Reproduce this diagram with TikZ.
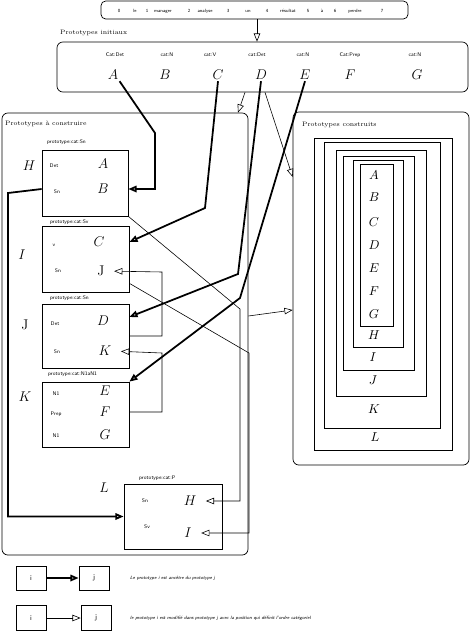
\documentclass[tikz,border=0pt]{standalone}
\usepackage{tikz}
\usetikzlibrary{positioning, arrows.meta}

\begin{document}
\begin{tikzpicture}[x=0.03cm, y=-0.03cm, >={Triangle[open, length=7pt, width=5.5pt]},
                    frame/.style={rectangle, draw, rounded corners=5pt, line width=0.6pt},
                    proto/.style={rectangle, draw, line width=0.6pt},
                    word/.style={anchor=base, inner sep=0pt, font=\sffamily\fontsize{4}{4}\selectfont},
                    cat/.style={inner sep=0pt, font=\sffamily\fontsize{4.5}{5}\selectfont},
                    title/.style={anchor=west, inner sep=0pt, font=\fontsize{5.5}{6}\selectfont},
                    letter/.style={inner sep=1pt, font=\fontsize{12}{12}\selectfont},
                    small letter/.style={inner sep=1pt, font=\fontsize{10.5}{11}\selectfont},
                    legend/.style={anchor=west, inner sep=0pt, font=\sffamily\itshape\fontsize{4}{4}\selectfont},
                    anc/.style={->, line width=1.5pt},
                    modif/.style={->, line width=0.5pt}]

  \useasboundingbox (0,0) rectangle (473,632);

  % phrase a analyser
  \node[frame, rounded corners=4pt, minimum width=9.21cm, minimum height=0.54cm] (phrase) at (254.5,10) {};
  \foreach \w/\x in {0/119, le/135, 1/147, manager/163, 2/189, analyse/205, 3/228, un/248,
                     4/267, résultat/288, 5/308, à/322, 6/335, perdre/355, 7/382}
    \node[word] (w\x) at (\x,12.5) {\w};

  % prototypes initiaux
  \node[frame, minimum width=12.33cm, minimum height=1.5cm] (init) at (262.5,67) {};
  \node[title] (tinit) at (60,33) {Prototypes initiaux};
  \node[cat, anchor=base] (cA) at (115,56) {Cat:Det};
  \node[cat, anchor=base] (cB) at (167,56) {cat:N};
  \node[cat, anchor=base] (cC) at (210,56) {cat:V};
  \node[cat, anchor=base] (cD) at (257,56) {cat:Det};
  \node[cat, anchor=base] (cE) at (303,56) {cat:N};
  \node[cat, anchor=base] (cF) at (350,56) {Cat:Prep};
  \node[cat, anchor=base] (cG) at (415,56) {cat:N};
  \node[letter] (iA) at (113,75) {$A$};
  \node[letter] (iB) at (165,75) {$B$};
  \node[letter] (iC) at (218,75) {$C$};
  \node[letter] (iD) at (261,75) {$D$};
  \node[letter] (iE) at (305,75) {$E$};
  \node[letter] (iF) at (350,75) {$F$};
  \node[letter] (iG) at (417,75) {$G$};

  % prototypes a construire
  \node[frame, minimum width=7.38cm, minimum height=13.26cm] (build) at (125,334) {};
  \node[title] (tbuild) at (5,124) {Prototypes à construire};

  \node[proto, minimum width=2.58cm, minimum height=1.98cm] (pH) at (85,183) {};
  \node[cat, anchor=west] (lH) at (47,142) {prototype:cat:Sn};
  \node[cat] (dH) at (54,166) {Det};
  \node[cat] (sH) at (57,192) {Sn};
  \node[letter] (hA) at (103,164) {$A$};
  \node[letter] (hB) at (103,189) {$B$};
  \node[letter] (oH) at (29,166) {$H$};

  \node[proto, minimum width=2.61cm, minimum height=1.98cm] (pI) at (85.5,259) {};
  \node[cat, anchor=west] (lI) at (50,222) {prototype:cat:Sv};
  \node[cat] (vI) at (54,245) {v};
  \node[cat] (sI) at (58,271) {Sn};
  \node[letter] (hC) at (99,242) {$C$};
  \node[letter] (hJ) at (101,271) {J};
  \node[letter] (oI) at (22,255) {$I$};

  \node[proto, minimum width=2.61cm, minimum height=1.92cm] (pJ) at (85.5,336) {};
  \node[cat, anchor=west] (lJ) at (50,298) {prototype:cat:Sn};
  \node[cat] (dJ) at (55,324) {Det};
  \node[cat] (sJ) at (57,352) {Sn};
  \node[letter] (hD) at (103,321) {$D$};
  \node[letter] (hK) at (105,351) {$K$};
  \node[letter] (oJ) at (25,325) {J};

  \node[proto, minimum width=2.61cm, minimum height=1.95cm] (pK) at (85.5,414.5) {};
  \node[cat, anchor=west] (lK) at (48,374) {prototype:cat:N1aN1};
  \node[cat] (nK) at (56,394) {N1};
  \node[cat] (rK) at (56,414) {Prep};
  \node[cat] (mK) at (56,436) {N1};
  \node[letter] (hE) at (105,391) {$E$};
  \node[letter] (hF) at (105,412) {$F$};
  \node[letter] (hG) at (105,435) {$G$};
  \node[letter] (oK) at (25,397) {$K$};

  \node[proto, minimum width=2.94cm, minimum height=1.95cm] (pL) at (173,516.5) {};
  \node[cat, anchor=west] (lL) at (139,478) {prototype:cat:P};
  \node[cat] (sL) at (145,501) {Sn};
  \node[cat] (vL) at (147,527) {Sv};
  \node[letter] (hH) at (190,501) {$H$};
  \node[letter] (hI) at (188,533) {$I$};
  \node[letter] (oL) at (104,488) {$L$};

  % prototypes construits
  \node[frame, minimum width=5.28cm, minimum height=10.59cm] (done) at (381,288.5) {};
  \node[title] (tdone) at (302,125) {Prototypes construits};
  \draw[line width=0.6pt] (314,138) rectangle (452,450);
  \draw[line width=0.6pt] (324,142) rectangle (440,428);
  \draw[line width=0.6pt] (336,150) rectangle (426,396);
  \draw[line width=0.6pt] (343,156) rectangle (414,370);
  \draw[line width=0.6pt] (353,160) rectangle (403,347);
  \draw[line width=0.6pt] (360,164) rectangle (393,326);
  \node[small letter] (rA) at (374,175) {$A$};
  \node[small letter] (rB) at (374,197) {$B$};
  \node[small letter] (rC) at (374,222) {$C$};
  \node[small letter] (rD) at (374,245) {$D$};
  \node[small letter] (rE) at (374,268) {$E$};
  \node[small letter] (rF) at (374,291) {$F$};
  \node[small letter] (rG) at (374,314) {$G$};
  \node[small letter] (rH) at (374,335) {$H$};
  \node[small letter] (rI) at (373,357) {$I$};
  \node[small letter] (rJ) at (373,380) {$J$};
  \node[small letter] (rK) at (374,409) {$K$};
  \node[small letter] (rL) at (375,437) {$L$};

  % liens entre les cadres
  \draw[modif] (phrase.south -| 257,0) -- (init.north -| 257,0);
  \draw[modif] (init.south -| 245,0) -- (build.north -| 238,0);
  \draw[modif] (init.south -| 265,0) -- (done.west |- 0,177);
  \draw[modif] (build.east |- 0,316) -- (done.west |- 0,310);

  % ancetres
  \coordinate (kA) at (155,133);
  \coordinate (kC) at (205,208);
  \coordinate (kD) at (238,274);
  \coordinate (kE) at (240,298);
  \coordinate (kS) at (8,193);
  \draw[anc] (iA.south east) -- (kA) |- (pH.east |- hB);
  \draw[anc] (iC.south) -- (kC) -- (pI.east |- hC);
  \draw[anc] (iD.south) -- (kD) -- (pJ.east |- 0,317);
  \draw[anc] (iE.south) -- (kE) -- (pK.north east);
  \draw[anc] (pH.west |- hB) -- (kS) |- (pL.west);

  % modifications
  \coordinate (kJ) at (162,272);
  \coordinate (kK) at (162,353);
  \coordinate (kH) at (240,309);
  \coordinate (kI) at (249,353);
  \draw[modif, shorten >=7pt] (pJ.east) -| (kJ) -- (hJ.east);
  \draw[modif, shorten >=7pt] (pK.east |- hF) -| (kK) -- (hK.east);
  \draw[modif, shorten >=7pt] (pH.south east) -- (kH) |- (hH.east);
  \draw[modif, shorten >=7pt] (pI.-29) -- (kI) |- (hI.east);

  % legende
  \node[proto, minimum width=0.9cm, minimum height=0.72cm, font=\sffamily\fontsize{6}{6}\selectfont] (li1) at (31,578) {i};
  \node[proto, minimum width=0.9cm, minimum height=0.72cm, font=\sffamily\fontsize{6}{6}\selectfont] (lj1) at (94,578) {j};
  \node[proto, minimum width=0.9cm, minimum height=0.75cm, font=\sffamily\fontsize{6}{6}\selectfont] (li2) at (31,618) {i};
  \node[proto, minimum width=0.9cm, minimum height=0.75cm, font=\sffamily\fontsize{6}{6}\selectfont] (lj2) at (96,618) {j};
  \draw[anc] (li1) -- (lj1);
  \draw[modif] (li2) -- (lj2);
  \node[legend] (t1) at (130,578) {Le prototype i est ancêtre du prototype j};
  \node[legend] (t2) at (130,618) {le prototype i est modifié dans prototype j avec la position qui définit l'ordre catégoriel};

\end{tikzpicture}
\end{document}
